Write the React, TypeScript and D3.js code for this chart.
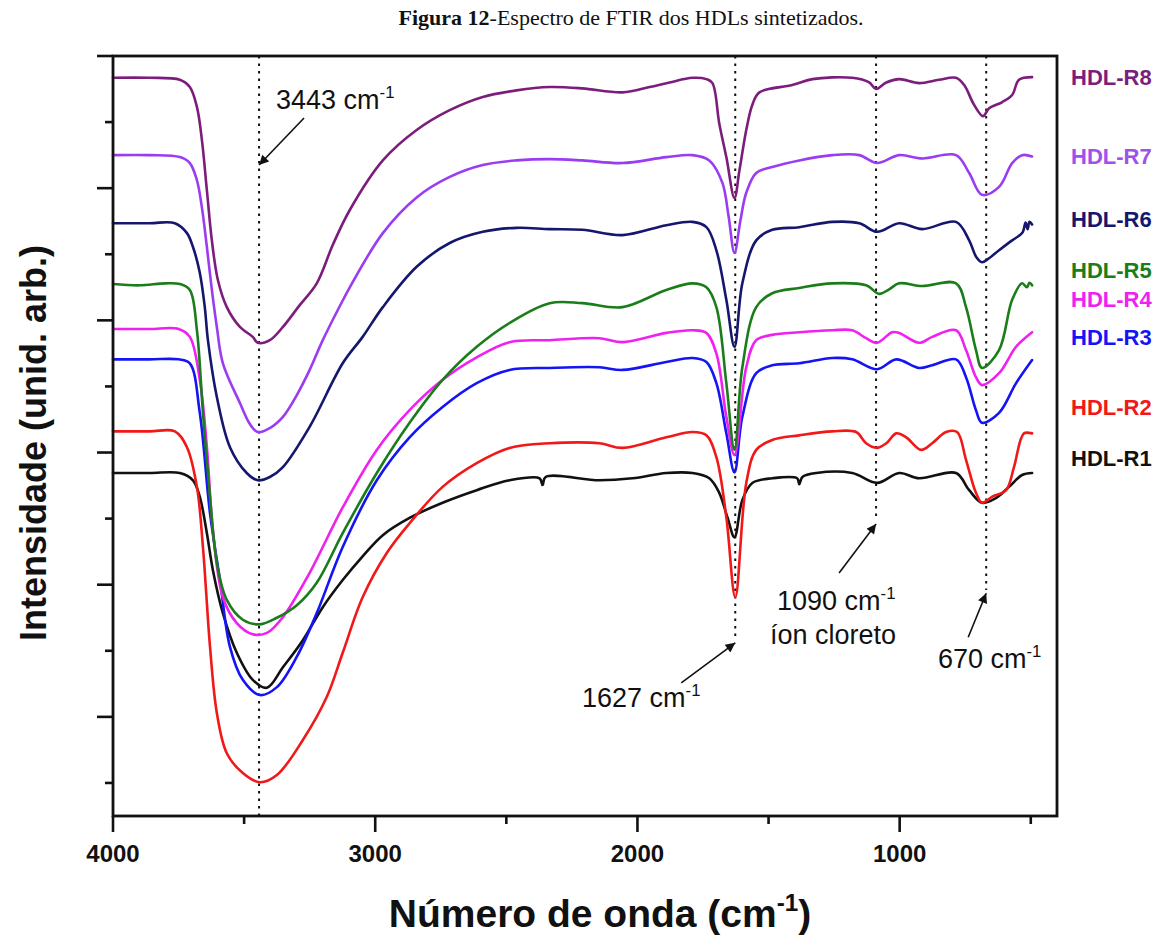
import React from "react";
import * as d3 from "d3";

// ---------- data ----------
const TITLE_BOLD = "Figura 12";
const TITLE_REST = "-Espectro de FTIR dos HDLs sintetizados.";
const X_MAJOR = [4000, 3000, 2000, 1000];
const X_MINOR = [3500, 2500, 1500, 500];
const Y_MAJOR = [20, 40, 60, 80, 100, 120];
const Y_MINOR = [10, 30, 50, 70, 90, 110];
const X_DOMAIN = [4000, 400];
const Y_DOMAIN = [5, 120];

const R1: [number, number][] = [
  [4000, 56.9], [3860, 56.9], [3745, 56.9], [3695, 55.8], [3669, 53.3], [3642, 47.8], [3619, 42.2],
  [3581, 35.7], [3528, 29.7], [3467, 25.6], [3413, 24.4], [3352, 27.5], [3276, 31.6], [3200, 36.6],
  [3124, 40.7], [3048, 44.3], [2971, 47.5], [2869, 50.1], [2743, 52.4], [2613, 54.3], [2488, 55.8],
  [2373, 56.1], [2362, 55.1], [2350, 56.3], [2145, 55.8], [2019, 56.1], [1890, 56.9], [1790, 56.9],
  [1726, 56.1], [1688, 53.9], [1657, 50.2], [1630, 47.2], [1600, 52.8], [1562, 55.4], [1486, 56.1],
  [1391, 56.1], [1383, 55.2], [1371, 56.3], [1318, 56.9], [1181, 56.9], [1086, 55.4], [1002, 56.9],
  [926, 56.1], [785, 56.9], [735, 54.3], [686, 52.4], [633, 53.1], [583, 54.8], [533, 56.6], [495, 56.9],
];
const R2: [number, number][] = [
  [4000, 63.2], [3860, 63.2], [3764, 63.2], [3718, 60.8], [3680, 54.8], [3657, 45.7], [3630, 30.6],
  [3604, 20.6], [3566, 14.5], [3505, 11.5], [3440, 10.1], [3375, 11.2], [3276, 16.5], [3185, 23.0],
  [3124, 29.7], [3048, 38.1], [2956, 44.8], [2869, 49.3], [2743, 54.8], [2613, 58.4], [2488, 60.7],
  [2335, 61.4], [2145, 61.4], [2057, 60.7], [1890, 62.3], [1790, 63.1], [1737, 62.6], [1699, 59.3],
  [1661, 50.2], [1627, 38.1], [1585, 55.4], [1547, 60.4], [1486, 61.9], [1383, 62.6], [1257, 63.2],
  [1166, 63.1], [1128, 61.4], [1086, 60.7], [1051, 61.4], [1013, 62.9], [975, 62.3], [918, 60.4],
  [876, 61.4], [823, 63.1], [781, 63.1], [747, 58.9], [709, 53.9], [686, 52.4], [648, 53.3],
  [594, 54.3], [564, 57.8], [526, 62.9], [495, 62.9],
];
const R3: [number, number][] = [
  [4000, 74.1], [3860, 74.1], [3750, 74.1], [3707, 73.5], [3669, 66.0], [3630, 50.8], [3592, 40.7],
  [3554, 30.6], [3505, 25.6], [3440, 23.3], [3375, 24.5], [3299, 29.1], [3223, 35.7], [3124, 45.7],
  [2994, 55.8], [2869, 62.3], [2743, 66.9], [2613, 70.5], [2488, 72.5], [2335, 72.8], [2145, 72.9],
  [2057, 72.5], [1890, 73.7], [1790, 74.3], [1737, 73.7], [1699, 70.5], [1661, 62.9], [1630, 57.0],
  [1600, 65.4], [1547, 72.0], [1486, 73.2], [1383, 73.5], [1257, 74.3], [1181, 74.1], [1086, 72.6],
  [1013, 74.1], [926, 72.8], [876, 73.2], [785, 74.1], [747, 71.4], [709, 66.4], [686, 64.5],
  [621, 66.0], [556, 70.5], [495, 74.0],
];
const R4: [number, number][] = [
  [4000, 78.7], [3860, 78.7], [3750, 78.7], [3707, 77.5], [3669, 71.0], [3642, 60.8], [3619, 48.3],
  [3581, 38.1], [3528, 34.2], [3467, 32.5], [3413, 32.7], [3352, 35.1], [3250, 41.8], [3124, 51.7],
  [2994, 60.4], [2869, 66.4], [2743, 71.0], [2613, 74.4], [2488, 76.7], [2335, 77.0], [2145, 77.3],
  [2057, 76.7], [1890, 78.1], [1790, 78.5], [1737, 78.1], [1699, 75.0], [1661, 65.4], [1630, 59.6],
  [1585, 72.9], [1547, 77.0], [1486, 77.8], [1383, 78.2], [1257, 78.5], [1181, 78.5], [1128, 77.3],
  [1086, 76.6], [1029, 78.2], [1002, 78.1], [926, 76.6], [876, 77.5], [785, 78.5], [747, 75.5],
  [709, 71.4], [686, 70.2], [621, 72.0], [556, 76.0], [495, 78.2],
];
const R5: [number, number][] = [
  [4000, 85.5], [3900, 85.3], [3800, 85.6], [3745, 85.5], [3707, 84.6], [3680, 78.5], [3657, 66.0],
  [3630, 53.3], [3604, 43.3], [3566, 37.7], [3505, 34.7], [3440, 34.0], [3375, 35.0], [3299, 36.9],
  [3223, 40.3], [3124, 47.8], [2994, 56.9], [2869, 64.5], [2743, 71.0], [2613, 76.0], [2488, 79.6],
  [2335, 82.6], [2210, 82.6], [2057, 82.0], [1890, 84.6], [1790, 85.6], [1737, 85.0], [1699, 82.0],
  [1661, 70.5], [1630, 60.4], [1600, 72.9], [1547, 82.0], [1486, 84.1], [1383, 84.9], [1257, 85.6],
  [1128, 85.3], [1078, 84.0], [1040, 84.7], [1002, 85.6], [914, 85.2], [785, 85.6], [747, 82.0],
  [709, 75.5], [686, 72.8], [621, 75.5], [571, 83.1], [533, 85.6], [515, 85.0], [505, 85.7], [495, 85.3],
];
const R6: [number, number][] = [
  [4000, 94.7], [3860, 94.7], [3764, 94.7], [3718, 93.2], [3695, 91.1], [3669, 87.2], [3650, 82.0],
  [3638, 77.0], [3604, 68.4], [3554, 60.8], [3490, 56.9], [3448, 55.8], [3402, 56.3], [3352, 57.8],
  [3250, 63.9], [3124, 73.5], [3048, 77.5], [2971, 82.0], [2842, 88.1], [2716, 91.7], [2590, 93.4],
  [2461, 94.0], [2335, 93.8], [2210, 93.7], [2057, 92.9], [1890, 94.4], [1790, 94.9], [1737, 94.1],
  [1699, 90.6], [1661, 83.1], [1630, 76.0], [1600, 85.6], [1547, 92.1], [1486, 93.7], [1383, 94.1],
  [1257, 94.9], [1154, 94.7], [1086, 93.4], [1002, 94.7], [914, 93.8], [785, 94.9], [735, 92.1],
  [708, 89.6], [686, 88.8], [659, 89.4], [621, 90.6], [571, 92.1], [545, 92.8], [530, 93.4],
  [520, 94.8], [512, 93.8], [505, 94.9], [495, 94.5],
];
const R7: [number, number][] = [
  [4000, 105.0], [3860, 105.0], [3745, 104.7], [3707, 103.8], [3680, 101.2], [3661, 97.1],
  [3642, 91.1], [3623, 84.6], [3604, 79.0], [3581, 73.5], [3516, 67.5], [3478, 64.3], [3448, 63.1],
  [3402, 63.7], [3352, 65.4], [3299, 68.7], [3250, 72.5], [3200, 77.0], [3124, 83.0], [3097, 85.0],
  [2971, 93.2], [2842, 98.6], [2716, 101.7], [2590, 103.5], [2461, 104.2], [2335, 104.4],
  [2210, 104.2], [2057, 103.8], [1890, 104.7], [1790, 105.0], [1726, 104.2], [1676, 100.8],
  [1653, 95.9], [1630, 90.2], [1607, 95.2], [1585, 99.3], [1547, 102.3], [1486, 103.2], [1383, 104.2],
  [1257, 105.0], [1154, 105.0], [1086, 103.8], [1002, 105.0], [914, 104.5], [785, 105.0], [735, 102.3],
  [686, 99.0], [621, 100.2], [571, 103.8], [533, 105.0], [495, 104.8],
];
const R8: [number, number][] = [
  [4000, 116.7], [3860, 116.7], [3745, 116.4], [3707, 115.3], [3680, 112.3], [3661, 107.3],
  [3642, 99.7], [3623, 92.1], [3600, 86.1], [3566, 82.0], [3516, 79.0], [3467, 77.5], [3448, 76.6],
  [3402, 77.0], [3352, 79.0], [3288, 82.3], [3223, 85.6], [3162, 91.4], [3097, 96.7], [2971, 104.2],
  [2842, 108.8], [2716, 111.8], [2590, 113.8], [2461, 114.8], [2335, 115.3], [2210, 115.1],
  [2057, 114.5], [1954, 115.3], [1878, 116.0], [1790, 116.7], [1737, 116.5], [1714, 115.9],
  [1688, 109.8], [1661, 104.7], [1630, 98.5], [1611, 102.7], [1585, 108.8], [1562, 112.6],
  [1535, 114.5], [1410, 115.6], [1333, 116.5], [1181, 116.7], [1116, 116.0], [1090, 115.0],
  [1051, 116.0], [1002, 116.5], [926, 115.9], [850, 116.4], [785, 116.7], [754, 115.6], [716, 112.6],
  [682, 110.9], [659, 112.1], [610, 113.0], [571, 114.1], [545, 116.4], [495, 116.8],
];

const SERIES = [R1, R2, R3, R4, R5, R6, R7, R8];
const SERIES_NAMES = ["HDL-R1", "HDL-R2", "HDL-R3", "HDL-R4", "HDL-R5", "HDL-R6", "HDL-R7", "HDL-R8"];
const SERIES_COLORS = ["#111111", "#f01818", "#1414f5", "#f020f0", "#1a7d1a", "#15166e", "#9a3cf2", "#7c1d7c"];
const LABEL_COLORS = ["#111111", "#f01818", "#1414f5", "#f020f0", "#1a7d1a", "#15166e", "#a050ec", "#7c1d7c"];
const LABEL_VALUES = [59.2, 66.9, 77.5, 83.2, 87.6, 95.3, 104.9, 116.8];

const PEAKS = [3443, 1627, 1090, 670];
const PEAK_LINE_ENDS = [5, 31.6, 49.8, 39.2];
const ARROW_TIPS: [number, number][] = [[3443, 103.5], [1627, 31.2], [1090, 49.2], [670, 38.7]];

// ---------- layout ----------
const W = 1169, H = 947;
const L = 113, R = 1057, T = 56, B = 816;
const SANS = "'Liberation Sans', Arial, Helvetica, sans-serif";

export default function App() {
  const x = d3.scaleLinear().domain(X_DOMAIN).range([L, R]);
  const y = d3.scaleLinear().domain(Y_DOMAIN).range([B, T]);
  const line = d3.line<[number, number]>().x(d => x(d[0])).y(d => y(d[1])).curve(d3.curveCatmullRom.alpha(0.5));

  const arrowTails: [number, number][] = [[45, -47], [-54, 40], [-37, 49], [-18, 44]];

  const sup = (base: string, size: number, extra?: string) => (
    <>
      {base}
      <tspan dy={-size * 0.42} fontSize={size * 0.62}>-1</tspan>
      {extra ? <tspan dy={size * 0.42}>{extra}</tspan> : null}
    </>
  );

  return (
    <svg width={W} height={H} style={{ position: "absolute", left: 0, top: 0, background: "#fff" }}>
      <defs>
        <marker id="ah" viewBox="0 0 10 10" refX="10" refY="5" markerWidth="7" markerHeight="6" orient="auto" markerUnits="strokeWidth">
          <path d="M0,0 L10,5 L0,10 z" fill="#111" />
        </marker>
      </defs>
      <rect x={0} y={0} width={W} height={H} fill="#fff" />
      <text x={631} y={25} textAnchor="middle" fontFamily="'Liberation Serif', 'Times New Roman', serif" fontSize={22} fill="#111">
        <tspan fontWeight="bold">{TITLE_BOLD}</tspan>
        <tspan>{TITLE_REST}</tspan>
      </text>

      {/* peak dotted lines */}
      {PEAKS.map((p, i) => (
        <line key={"pk" + i} x1={x(p)} x2={x(p)} y1={T} y2={y(PEAK_LINE_ENDS[i])}
          stroke="#111" strokeWidth={2} strokeDasharray="2.5,5" />
      ))}

      {/* spectra */}
      {SERIES.map((s, i) => (
        <path key={"s" + i} d={line(s) || ""} fill="none" stroke={SERIES_COLORS[i]} strokeWidth={2.6}
          strokeLinejoin="round" strokeLinecap="round" />
      ))}

      {/* frame */}
      <rect x={L} y={T} width={R - L} height={B - T} fill="none" stroke="#111" strokeWidth={2.8} />

      {/* y ticks */}
      {Y_MAJOR.map(v => (
        <line key={"ym" + v} x1={L - 16} x2={L} y1={y(v)} y2={y(v)} stroke="#111" strokeWidth={2.6} />
      ))}
      {Y_MINOR.map(v => (
        <line key={"yn" + v} x1={L - 8} x2={L} y1={y(v)} y2={y(v)} stroke="#111" strokeWidth={2.6} />
      ))}
      {/* x ticks */}
      {X_MAJOR.map(v => (
        <line key={"xm" + v} x1={x(v)} x2={x(v)} y1={B} y2={B + 16} stroke="#111" strokeWidth={2.6} />
      ))}
      {X_MINOR.map(v => (
        <line key={"xn" + v} x1={x(v)} x2={x(v)} y1={B} y2={B + 8} stroke="#111" strokeWidth={2.6} />
      ))}
      {X_MAJOR.map(v => (
        <text key={"xl" + v} x={x(v)} y={862} textAnchor="middle" fontFamily={SANS} fontWeight="bold" fontSize={24} fill="#111">{v}</text>
      ))}

      {/* axis titles */}
      <text x={600} y={927} textAnchor="middle" fontFamily={SANS} fontWeight="bold" fontSize={39} fill="#111">
        {sup("Número de onda (cm", 39, ")")}
      </text>
      <text transform={`translate(46,443) rotate(-90)`} textAnchor="middle" fontFamily={SANS} fontWeight="bold" fontSize={36} fill="#111">
        Intensidade (unid. arb.)
      </text>

      {/* series labels */}
      {SERIES_NAMES.map((n, i) => (
        <text key={"lb" + i} x={1071} y={y(LABEL_VALUES[i])} dy="0.36em" fontFamily={SANS} fontWeight="bold" fontSize={22} fill={LABEL_COLORS[i]}>{n}</text>
      ))}

      {/* arrows */}
      {ARROW_TIPS.map((t, i) => {
        const tx = x(t[0]), ty = y(t[1]);
        return (
          <line key={"ar" + i} x1={tx + arrowTails[i][0]} y1={ty + arrowTails[i][1]} x2={tx} y2={ty}
            stroke="#111" strokeWidth={1.6} markerEnd="url(#ah)" />
        );
      })}

      {/* annotations */}
      <g fontFamily={SANS} fontSize={27} fill="#111">
        <text x={276} y={109}>{sup("3443 cm", 27)}</text>
        <text x={582} y={707}>{sup("1627 cm", 27)}</text>
        <text x={777} y={610}>{sup("1090 cm", 27)}</text>
        <text x={770} y={644}>íon cloreto</text>
        <text x={938} y={668}>{sup("670 cm", 27)}</text>
      </g>
    </svg>
  );
}
